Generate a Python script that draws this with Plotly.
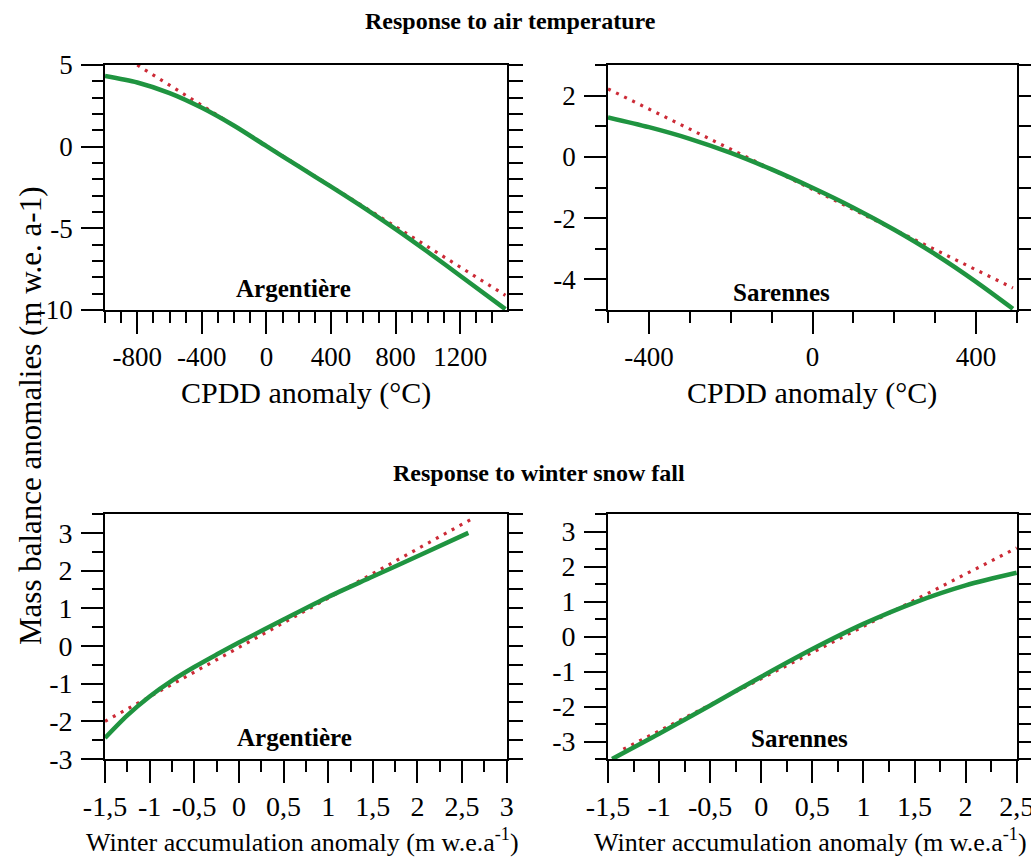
import plotly.graph_objects as go

# ---------------- data ----------------
# Top-left: Argentière, response to air temperature
tl_green_x = [-1000, -800, -600, -400, -200, 0, 200, 400, 600, 800, 1000, 1200, 1480]
tl_green_y = [4.33, 3.93, 3.28, 2.38, 1.28, 0.03, -1.21, -2.45, -3.72, -5.05, -6.45, -7.9, -9.95]
tl_red_x = [-800, 1480]
tl_red_y = [5.0, -9.1]

# Top-right: Sarennes, response to air temperature
tr_green_x = [-500, -400, -300, -200, -100, 0, 100, 200, 300, 400, 490]
tr_green_y = [1.29, 0.97, 0.59, 0.13, -0.41, -1.01, -1.66, -2.38, -3.18, -4.08, -4.96]
tr_red_x = [-500, 490]
tr_red_y = [2.22, -4.28]

# Bottom-left: Argentière, response to winter snow fall
bl_green_x = [-1.5, -1.25, -1, -0.75, -0.5, -0.25, 0, 0.5, 1, 1.5, 2, 2.57]
bl_green_y = [-2.44, -1.84, -1.34, -0.92, -0.56, -0.23, 0.09, 0.70, 1.30, 1.84, 2.38, 3.0]
bl_red_x = [-1.5, 2.64]
bl_red_y = [-2.0, 3.41]

# Bottom-right: Sarennes, response to winter snow fall
br_green_x = [-1.46, -1.0, -0.5, 0.0, 0.5, 1.0, 1.5, 2.0, 2.5]
br_green_y = [-3.5, -2.78, -1.97, -1.15, -0.36, 0.36, 0.97, 1.46, 1.82]
br_red_x = [-1.35, 2.5]
br_red_y = [-3.22, 2.53]

# tick labels
tl_xticks = [-800, -400, 0, 400, 800, 1200]
tl_yticks = [5, 0, -5, -10]
tr_xticks = [-400, 0, 400]
tr_yticks = [2, 0, -2, -4]
acc_xticks = [-1.5, -1, -0.5, 0, 0.5, 1, 1.5, 2, 2.5, 3]
acc_xlabels = ["-1,5", "-1", "-0,5", "0", "0,5", "1", "1,5", "2", "2,5", "3"]
bl_yticks = [-3, -2, -1, 0, 1, 2, 3]
br_yticks = [-3, -2, -1, 0, 1, 2, 3]

panel_names = ["Argentière", "Sarennes", "Argentière", "Sarennes"]
section_titles = ["Response to air temperature", "Response to winter snow fall"]
cpdd_title = "CPDD anomaly (°C)"
acc_title = "Winter accumulation anomaly (m w.e.a<sup>-1</sup>)"
y_title = "Mass balance anomalies (m w.e. a-1)"

# ---------------- layout constants ----------------
W, H = 1031, 861
FONT = "Liberation Serif"
GREEN = "#1F9440"
RED = "#CC2A36"


def fx(px):
    return px / W


def fy(py):
    return 1 - py / H


# panel pixel boxes: (left, right, top, bottom)
boxes = {
    "tl": (105, 507, 65, 310),
    "tr": (608, 1017, 65, 310),
    "bl": (105, 507, 514, 759),
    "br": (608, 1017, 514, 759),
}

fig = go.Figure()

panels = [
    ("tl", "x", "y", "y5", tl_green_x, tl_green_y, tl_red_x, tl_red_y),
    ("tr", "x2", "y2", "y6", tr_green_x, tr_green_y, tr_red_x, tr_red_y),
    ("bl", "x3", "y3", "y7", bl_green_x, bl_green_y, bl_red_x, bl_red_y),
    ("br", "x4", "y4", "y8", br_green_x, br_green_y, br_red_x, br_red_y),
]

for key, xa, ya, yr, gx, gy, rx, ry in panels:
    fig.add_trace(go.Scatter(x=rx, y=ry, mode="lines", xaxis=xa, yaxis=ya,
                             line=dict(color=RED, width=3.2, dash="3px,6px"),
                             showlegend=False, hoverinfo="skip"))
    fig.add_trace(go.Scatter(x=gx, y=gy, mode="lines", xaxis=xa, yaxis=ya,
                             line=dict(color=GREEN, width=4.5, shape="spline", smoothing=0.8),
                             showlegend=False, hoverinfo="skip"))
    # empty trace so the right-side tick axis is drawn
    fig.add_trace(go.Scatter(x=[], y=[], xaxis=xa, yaxis=yr, showlegend=False, hoverinfo="skip"))

LW = 1.6


def xaxis(key, rng, tickvals, ticktext, minor_dt, fsize):
    l, r, t, b = boxes[key]
    return dict(domain=[fx(l), fx(r)], range=rng, showline=True, mirror=True,
                linecolor="black", linewidth=LW, showgrid=False, zeroline=False,
                automargin=False, ticklabeloverflow="allow",
                tickmode="array", tickvals=tickvals, ticktext=ticktext,
                ticks="outside", ticklen=22, tickwidth=LW, tickcolor="black",
                ticklabelstandoff=0,
                minor=dict(ticks="outside", ticklen=11, tickwidth=LW, tickcolor="black",
                           tick0=0, dtick=minor_dt, showgrid=False),
                tickfont=dict(family=FONT, size=fsize, color="black"),
                fixedrange=True)


def yaxis(key, rng, tickvals, minor_dt, fsize, anchor):
    l, r, t, b = boxes[key]
    return dict(domain=[fy(b), fy(t)], range=rng, showline=True, mirror=False,
                anchor=anchor, linecolor="black", linewidth=LW, showgrid=False, zeroline=False,
                automargin=False, ticklabeloverflow="allow",
                tickmode="array", tickvals=tickvals, ticktext=[str(v) for v in tickvals],
                ticks="outside", ticklen=22, tickwidth=LW, tickcolor="black",
                ticklabelstandoff=3,
                minor=dict(ticks="outside", ticklen=11, tickwidth=LW, tickcolor="black",
                           tick0=0, dtick=minor_dt, showgrid=False),
                tickfont=dict(family=FONT, size=fsize, color="black"),
                fixedrange=True)


def yright(over, anchor, rng, dt):
    return dict(overlaying=over, anchor=anchor, side="right", range=rng,
                showline=True, linecolor="black", linewidth=LW, automargin=False,
                tickmode="linear", tick0=0, dtick=dt, ticks="outside", ticklen=14,
                tickwidth=LW, tickcolor="black", showticklabels=False,
                showgrid=False, zeroline=False, fixedrange=True)


fig.update_layout(
    width=W, height=H,
    margin=dict(l=0, r=0, t=0, b=0, pad=0, autoexpand=False),
    paper_bgcolor="white", plot_bgcolor="white",
    showlegend=False,
    xaxis=dict(**xaxis("tl", [-1000, 1490], tl_xticks, [str(v) for v in tl_xticks], 100, 27), anchor="y"),
    yaxis=yaxis("tl", [-10, 5], tl_yticks, 1, 27, "x"),
    xaxis2=dict(**xaxis("tr", [-500, 500], tr_xticks, [str(v) for v in tr_xticks], 100, 27), anchor="y2"),
    yaxis2=yaxis("tr", [-5, 3], tr_yticks, 1, 27, "x2"),
    xaxis3=dict(**xaxis("bl", [-1.5, 3.003], acc_xticks, acc_xlabels, 0.25, 28), anchor="y3"),
    yaxis3=yaxis("bl", [-3, 3.5], bl_yticks, 0.5, 28, "x3"),
    xaxis4=dict(**xaxis("br", [-1.5, 2.503], acc_xticks[:9], acc_xlabels[:9], 0.25, 28), anchor="y4"),
    yaxis4=yaxis("br", [-3.5, 3.5], br_yticks, 0.5, 28, "x4"),
    yaxis5=yright("y", "x", [-10, 5], 1),
    yaxis6=yright("y2", "x2", [-5, 3], 1),
    yaxis7=yright("y3", "x3", [-3, 3.5], 0.5),
    yaxis8=yright("y4", "x4", [-3.5, 3.5], 0.5),
)

ann = []


def add_text(text, px, py, size, bold=False, angle=0):
    ann.append(dict(text=f"<b>{text}</b>" if bold else text, x=fx(px), y=fy(py),
                    xref="paper", yref="paper", xanchor="center", yanchor="middle",
                    showarrow=False, textangle=angle,
                    font=dict(family=FONT, size=size, color="black")))


add_text(section_titles[0], 510, 21, 24, bold=True)
add_text(section_titles[1], 539, 473, 24, bold=True)
add_text(panel_names[0], 293, 288, 25, bold=True)
add_text(panel_names[1], 781, 292, 25, bold=True)
add_text(panel_names[2], 294, 737, 25, bold=True)
add_text(panel_names[3], 799, 738, 25, bold=True)
add_text(cpdd_title, 306, 393, 30)
add_text(cpdd_title, 812, 393, 30)
add_text(acc_title, 302, 840, 26)
add_text(acc_title, 810, 840, 26)
add_text(y_title, 30, 416, 31, angle=-90)
fig.update_layout(annotations=ann)

fig.write_html(
    "out.html",
    config={"displayModeBar": False},
    post_script="document.body.style.margin='0';document.body.style.padding='0';"
                "document.body.style.overflow='hidden';",
)
